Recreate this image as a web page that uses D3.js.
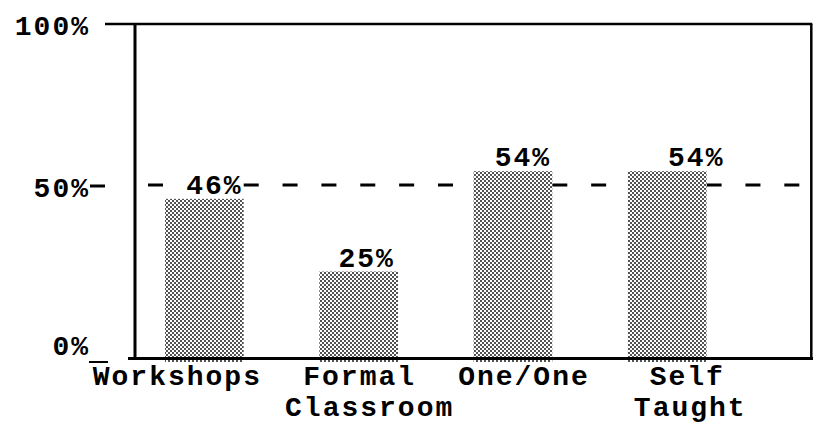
<!DOCTYPE html>
<html>
<head>
<meta charset="utf-8">
<script src="https://cdn.jsdelivr.net/npm/d3@7"></script>
<style>
  html, body { margin: 0; padding: 0; background: #fff; }
  svg { display: block; }
  text { font-family: "Liberation Mono", "Courier New", monospace; font-weight: bold; fill: #000; letter-spacing: 2px; }
</style>
</head>
<body>
<svg id="chart" width="814" height="424"></svg>
<script>
// Training source shares (percent of respondents)
const categories = ["Workshops", "Formal Classroom", "One/One", "Self Taught"];
const values = [46, 25, 54, 54];
const tickValues = [0, 50, 100];
const tickLabels = ["0%", "50%", "100%"];
const referenceValue = 50;

// Layout
const W = 814, H = 424;
const frame = { left: 135, top: 24, right: 811.3, bottom: 358.5 };
const fontSize = 28;
const valueNudge = [10, 8, 10, 29];            // horizontal shift of value labels
const nameNudge = [[-27], [1, 11], [11], [20, 23]]; // shift of each category label line
const tickDy = [-3, 12, 11];                   // baseline offset of y tick labels

const svg = d3.select("#chart");

const x = d3.scaleBand()
  .domain(categories)
  .range([127.2, 744.4])
  .paddingInner(0.49)
  .paddingOuter(0.245);

const y = d3.scaleLinear().domain([0, 100]).range([358, 12]);

// Dot screen fill for the bars
const defs = svg.append("defs");
const pat = defs.append("pattern")
  .attr("id", "dots")
  .attr("patternUnits", "userSpaceOnUse")
  .attr("width", 4).attr("height", 4);
pat.append("rect").attr("width", 4).attr("height", 4).attr("fill", "#fff");
pat.append("circle").attr("cx", 1).attr("cy", 1).attr("r", 0.9).attr("fill", "#000");
pat.append("circle").attr("cx", 3).attr("cy", 3).attr("r", 0.9).attr("fill", "#000");

// Dashed 50% reference line, broken where a bar or its value label sits on it
const yRef = y(referenceValue);
const occluders = categories
  .map((c, i) => ({ x0: x(c), x1: x(c) + x.bandwidth(), top: y(values[i]) - 25 }))
  .filter(d => d.top <= yRef)
  .sort((a, b) => a.x0 - b.x0);
const segs = [];
let start = 148;
occluders.forEach(o => { if (o.x0 > start) segs.push([start, o.x0]); start = Math.max(start, o.x1); });
if (start < frame.right) segs.push([start, frame.right]);
svg.append("g").selectAll("line").data(segs).join("line")
  .attr("x1", d => d[0]).attr("x2", d => d[1])
  .attr("y1", yRef).attr("y2", yRef)
  .attr("stroke", "#000").attr("stroke-width", 3)
  .attr("stroke-dasharray", "15 23.86");

// Bars
svg.append("g").selectAll("rect").data(values).join("rect")
  .attr("x", (d, i) => x(categories[i]))
  .attr("y", d => y(d))
  .attr("width", x.bandwidth())
  .attr("height", d => y(0) + 4 - y(d))
  .attr("fill", "url(#dots)");

// Frame
const axisG = svg.append("g").attr("stroke", "#000").attr("fill", "none");
axisG.append("path").attr("d", `M105,${frame.top}H${frame.right + 1}`).attr("stroke-width", 2.5);
axisG.append("path").attr("d", `M${frame.right},${frame.top}V357`).attr("stroke-width", 2.5);
axisG.append("path").attr("d", `M${frame.left},${frame.top}V360`).attr("stroke-width", 3);
axisG.append("path").attr("d", `M128,${frame.bottom}H813`).attr("stroke-width", 3);

// Y ticks: labels plus small marks
const yt = svg.append("g");
yt.selectAll("text").data(tickValues).join("text")
  .attr("x", 90)
  .attr("y", (t, i) => Math.max(y(t), frame.top) + tickDy[i])
  .attr("text-anchor", "end")
  .attr("font-size", fontSize)
  .text((t, i) => tickLabels[i]);
yt.append("line").attr("x1", 90).attr("x2", 105)
  .attr("y1", y(50) + 1).attr("y2", y(50) + 1)
  .attr("stroke", "#000").attr("stroke-width", 3);
yt.append("line").attr("x1", 89).attr("x2", 108)
  .attr("y1", y(0) + 4).attr("y2", y(0) + 4)
  .attr("stroke", "#000").attr("stroke-width", 2);

// Value labels
svg.append("g").selectAll("text").data(values).join("text")
  .attr("x", (d, i) => x(categories[i]) + x.bandwidth() / 2 + valueNudge[i])
  .attr("y", d => y(d) - 5)
  .attr("text-anchor", "middle")
  .attr("font-size", fontSize)
  .text(d => d + "%");

// Category labels
const cg = svg.append("g");
categories.forEach((c, i) => {
  const lines = c.split(" ");
  lines.forEach((ln, j) => {
    cg.append("text")
      .attr("x", x(c) + x.bandwidth() / 2 + nameNudge[i][j])
      .attr("y", 385 + j * 30.5)
      .attr("text-anchor", "middle")
      .attr("font-size", fontSize)
      .text(ln);
  });
});
</script>
</body>
</html>
